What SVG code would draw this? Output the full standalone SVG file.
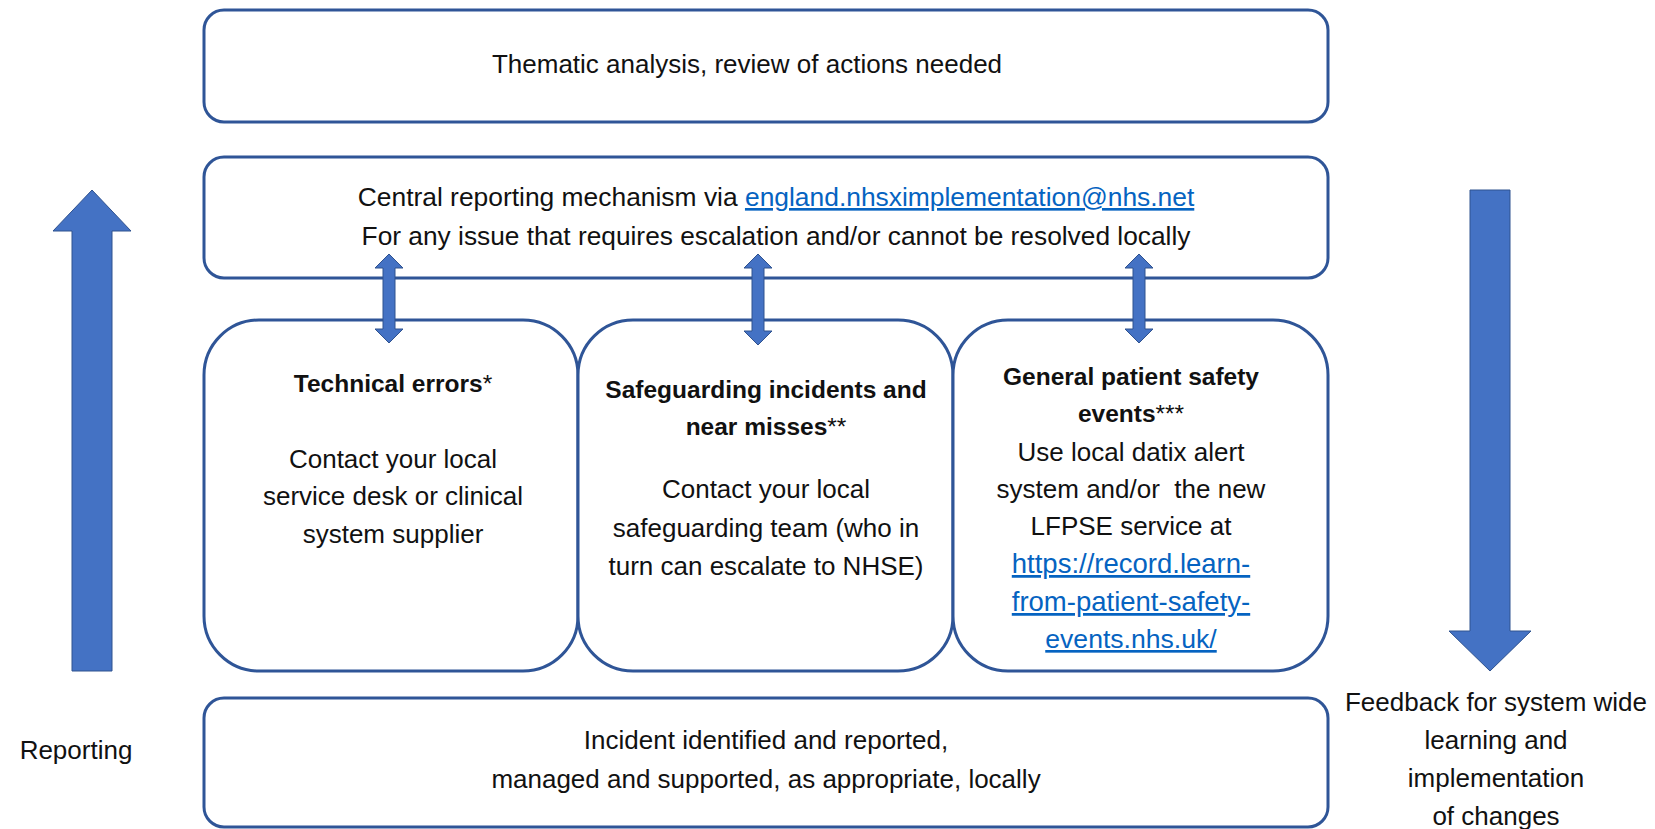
<svg xmlns="http://www.w3.org/2000/svg" width="1655" height="829" viewBox="0 0 1655 829">
<style>
.box{fill:#fff;stroke:#2F5597;stroke-width:3}
.arr{fill:#4472C4;stroke:#2F528F;stroke-width:1}
text{font-family:"Liberation Sans",Arial,sans-serif;font-size:26px;fill:#111;text-anchor:middle}
.b{font-weight:bold;font-size:24.5px}
.n{font-weight:normal}
.link{fill:#0563C1;text-decoration:underline}
</style>
<rect width="1655" height="829" fill="#fff"/>
<g id="thematic">
<rect class="box" x="204" y="10" width="1124" height="112" rx="20"/>
<text x="747" y="73">Thematic analysis, review of actions needed</text>
</g>
<g id="central">
<rect class="box" x="204" y="157" width="1124" height="121" rx="20"/>
<text x="776" y="206" style="font-size:26.4px">Central reporting mechanism via <tspan class="link">england.nhsximplementation@nhs.net</tspan></text>
<text x="776" y="245" style="font-size:26.3px">For any issue that requires escalation and/or cannot be resolved locally</text>
</g>
<g id="technical">
<rect class="box" x="204" y="320" width="374" height="351" rx="55"/>
<text class="b" x="393" y="392">Technical errors<tspan class="n">*</tspan></text>
<text x="393" y="468">Contact your local</text>
<text x="393" y="505">service desk or clinical</text>
<text x="393" y="543">system supplier</text>
</g>
<g id="safeguarding">
<rect class="box" x="578" y="320" width="375" height="351" rx="55"/>
<text class="b" x="766" y="398">Safeguarding incidents and</text>
<text class="b" x="766" y="435">near misses<tspan class="n">**</tspan></text>
<text x="766" y="498">Contact your local</text>
<text x="766" y="537">safeguarding team (who in</text>
<text x="766" y="575">turn can escalate to NHSE)</text>
</g>
<g id="general">
<rect class="box" x="953" y="320" width="375" height="351" rx="55"/>
<text class="b" x="1131" y="385">General patient safety</text>
<text class="b" x="1131" y="422">events<tspan class="n">***</tspan></text>
<text x="1131" y="461">Use local datix alert</text>
<text x="1131" y="498" xml:space="preserve">system and/or  the new</text>
<text x="1131" y="535">LFPSE service at</text>
<text x="1131" y="573" class="link" style="font-size:27.5px">https://record.learn-</text>
<text x="1131" y="611" class="link" style="font-size:27.5px">from-patient-safety-</text>
<text x="1131" y="648" class="link" style="font-size:26.6px">events.nhs.uk/</text>
</g>
<g id="incident">
<rect class="box" x="204" y="698" width="1124" height="129" rx="20"/>
<text x="766" y="749">Incident identified and reported,</text>
<text x="766" y="788">managed and supported, as appropriate, locally</text>
</g>
<g id="connectors">
<polygon class="arr" points="389,254 403,268 395,268 395,329 403,329 389,343 375,329 383,329 383,268 375,268"/>
<polygon class="arr" points="758,254 772,268 764,268 764,331 772,331 758,345 744,331 752,331 752,268 744,268"/>
<polygon class="arr" points="1139,254 1153,268 1145,268 1145,329 1153,329 1139,343 1125,329 1133,329 1133,268 1125,268"/>
<polygon class="arr" points="92,190 131,231 112,231 112,671 72,671 72,231 53,231"/>
<polygon class="arr" points="1470,190 1510,190 1510,631 1531,631 1490,671 1449,631 1470,631"/>
</g>
<g id="reporting-label">
<text x="76" y="759">Reporting</text>
</g>
<g id="feedback-label">
<text x="1496" y="711">Feedback for system wide</text>
<text x="1496" y="749">learning and</text>
<text x="1496" y="787">implementation</text>
<text x="1496" y="825">of changes</text>
</g>
</svg>
